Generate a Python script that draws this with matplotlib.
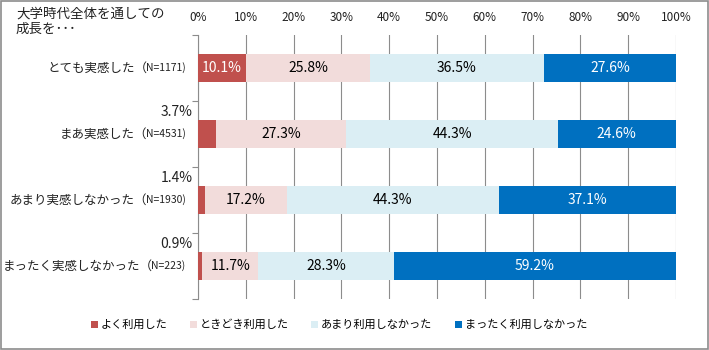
import matplotlib
matplotlib.use("Agg")
import matplotlib.pyplot as plt
from matplotlib.patches import Rectangle
import numpy as np

plt.rcParams['font.family'] = ['Noto Sans CJK JP', 'DejaVu Sans']

title = "大学時代全体を通しての\n成長を･･･"
categories = ["とても実感した（", "まあ実感した（", "あまり実感しなかった（", "まったく実感しなかった（"]
n_labels = ["N=1171)", "N=4531)", "N=1930)", "N=223)"]
series_names = ["よく利用した", "ときどき利用した", "あまり利用しなかった", "まったく利用しなかった"]
values = {
    "よく利用した": [10.1, 3.7, 1.4, 0.9],
    "ときどき利用した": [25.8, 27.3, 17.2, 11.7],
    "あまり利用しなかった": [36.5, 44.3, 44.3, 28.3],
    "まったく利用しなかった": [27.6, 24.6, 37.1, 59.2],
}
colors = ["#C0504D", "#F2DCDB", "#DBEEF4", "#0070C0"]
label_colors = ["white", "black", "black", "white"]
xticks = [0, 10, 20, 30, 40, 50, 60, 70, 80, 90, 100]

fig = plt.figure(figsize=(7.09, 3.5), dpi=100)
ax = fig.add_axes([198/709, 1 - 299/350, 478/709, 264/350])

y = np.arange(len(categories))
left = np.zeros(len(categories))
bar_h = 0.41
for i, name in enumerate(series_names):
    vals = np.array(values[name])
    ax.barh(y, vals, left=left, height=bar_h, color=colors[i], label=name, zorder=3)
    for j, v in enumerate(vals):
        if v < 5:
            ax.annotate(f"{v:.1f}%", xy=(0, y[j] - bar_h / 2), xytext=(-4, 1),
                        textcoords="offset points", ha="right", va="bottom",
                        fontsize=10, color="#222222")
        else:
            ax.text(left[j] + v / 2, y[j], f"{v:.1f}%", ha="center", va="center",
                    fontsize=10, color=label_colors[i], zorder=4)
    left += vals

ax.set_xlim(0, 100)
ax.set_ylim(len(categories) - 0.5, -0.5)
ax.xaxis.tick_top()
ax.set_xticks(xticks)
ax.set_xticklabels([f"{t}%" for t in xticks], fontsize=8.5)
ax.tick_params(axis="x", length=0, pad=8, colors="#222222")
ax.grid(axis="x", color="#8C8C8C", linewidth=0.8, zorder=0)
for s in ["top", "right", "bottom"]:
    ax.spines[s].set_visible(False)
ax.spines["left"].set_color("#8C8C8C")
ax.spines["left"].set_linewidth(0.8)
ax.set_yticks([])
ax.set_yticks(np.arange(-0.5, len(categories), 1.0), minor=True)
ax.tick_params(axis="y", which="minor", length=4, color="#8C8C8C", width=0.8, labelleft=False)

# category labels
fig.canvas.draw()
renderer = fig.canvas.get_renderer()
for j, (cat, nl) in enumerate(zip(categories, n_labels)):
    t_n = ax.annotate(nl, xy=(0, y[j]), xytext=(-9, 0), textcoords="offset points",
                      ha="right", va="center", fontsize=7.5, color="#222222")
    bb = t_n.get_window_extent(renderer)
    width_pt = bb.width * 72 / fig.dpi
    ax.annotate(cat, xy=(0, y[j]), xytext=(-8 - width_pt, 0), textcoords="offset points",
                ha="right", va="center", fontsize=9, color="#222222")

fig.text(16/709, 1 - 7/350, title, ha="left", va="top", fontsize=9.7, color="#222222", linespacing=1.1)

leg = fig.legend(loc="center", bbox_to_anchor=(0.478, 1 - 325/350), ncol=4, frameon=False,
                 fontsize=8, handlelength=0.65, handleheight=0.65, handletextpad=0.25,
                 columnspacing=2.0)

fig.patches.append(Rectangle((0.001, 0.002), 0.997, 0.995, transform=fig.transFigure,
                             fill=False, edgecolor="#8C8C8C", linewidth=1.2))

fig.savefig("out.png", dpi=100)
